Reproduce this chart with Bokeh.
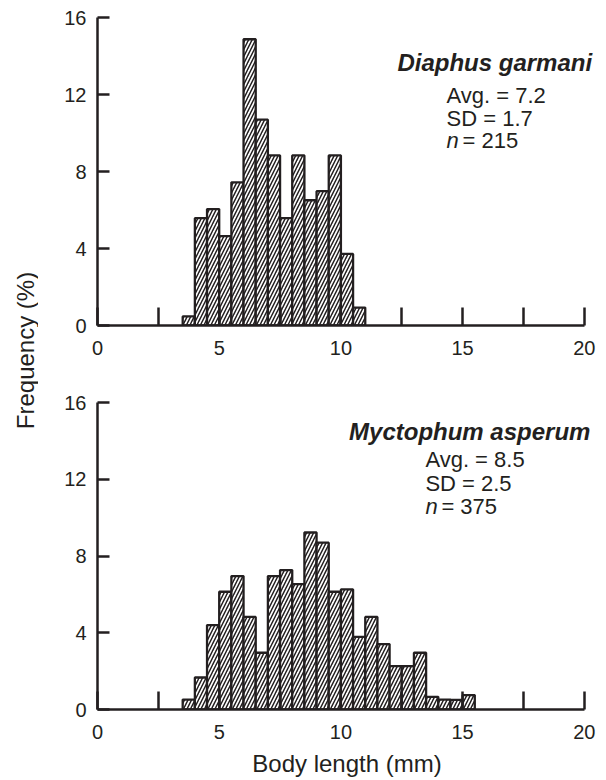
import math
from bokeh.plotting import figure
from bokeh.layouts import row, column
from bokeh.models import Range1d, FixedTicker, Label
from bokeh.embed import file_html
from bokeh.resources import INLINE

# ---------------- data ----------------
bin_width = 0.5
dg_bins = [3.5, 4.0, 4.5, 5.0, 5.5, 6.0, 6.5, 7.0, 7.5, 8.0, 8.5, 9.0, 9.5, 10.0, 10.5]
dg_freq = [0.47, 5.58, 6.05, 4.65, 7.44, 14.88, 10.70, 8.84, 5.58, 8.84, 6.51, 6.98, 8.84, 3.72, 0.93]

ma_bins = [3.5, 4.0, 4.5, 5.0, 5.5, 6.0, 6.5, 7.0, 7.5, 8.0, 8.5, 9.0,
           9.5, 10.0, 10.5, 11.0, 11.5, 12.0, 12.5, 13.0, 13.5, 14.0, 14.5, 15.0]
ma_freq = [0.52, 1.67, 4.40, 6.14, 6.96, 4.83, 2.96, 6.96, 7.27, 6.54, 9.23, 8.70,
           6.14, 6.26, 3.79, 4.83, 3.41, 2.26, 2.26, 2.96, 0.66, 0.52, 0.50, 0.75]

x_ticks = [0, 2.5, 5, 7.5, 10, 12.5, 15, 17.5, 20]
x_tick_labels = {0: "0", 2.5: "", 5: "5", 7.5: "", 10: "10", 12.5: "", 15: "15", 17.5: "", 20: "20"}
y_ticks = [0, 4, 8, 12, 16]

species = ["Diaphus garmani", "Myctophum asperum"]
avg_text = ["Avg. = 7.2", "Avg. = 8.5"]
sd_text = ["SD = 1.7", "SD = 2.5"]
n_text = ["= 215", "= 375"]
x_title = "Body length (mm)"
y_title = "Frequency (%)"

# ---------------- style ----------------
INK = "#231f20"
FONT = "Liberation Sans"
TICK_FS = "20px"
TEXT_FS = "22px"
AXIS_FS = "24px"
TITLE_FS = "24px"


def panel(bins, freq, height, top_b, bottom_b, title, avg, sd, nn, tx, ty, sx, sy, xlabel=None):
    p = figure(width=560, height=height,
               x_range=Range1d(0, 20.5), y_range=Range1d(0, 16.27),
               output_backend="svg", toolbar_location=None,
               min_border_left=59, min_border_right=2,
               min_border_top=top_b, min_border_bottom=bottom_b)
    p.outline_line_color = None
    p.grid.visible = False
    p.background_fill_color = "white"
    p.border_fill_color = "white"

    left = [b for b in bins]
    right = [b + bin_width for b in bins]
    p.quad(left=left, right=right, bottom=0, top=freq,
           fill_color="white", line_color=INK, line_width=2.3,
           hatch_pattern="/", hatch_color=INK, hatch_scale=7, hatch_weight=1.5)

    xa = p.xaxis[0]
    xa.ticker = FixedTicker(ticks=x_ticks)
    xa.major_label_overrides = x_tick_labels
    xa.bounds = (0, 20)
    xa.major_tick_in = 18
    xa.major_tick_out = 0
    xa.minor_tick_line_color = None
    xa.axis_line_width = 2.5
    xa.axis_line_color = INK
    xa.major_tick_line_width = 2.5
    xa.major_tick_line_color = INK
    xa.major_label_text_font = FONT
    xa.major_label_text_font_size = TICK_FS
    xa.major_label_text_color = INK
    xa.major_label_standoff = 15
    if xlabel:
        xa.axis_label = xlabel
        xa.axis_label_text_font = FONT
        xa.axis_label_text_font_size = AXIS_FS
        xa.axis_label_text_font_style = "normal"
        xa.axis_label_text_color = INK
        xa.axis_label_standoff = 8

    ya = p.yaxis[0]
    ya.ticker = FixedTicker(ticks=y_ticks)
    ya.bounds = (0, 16)
    ya.major_tick_in = 12
    ya.major_tick_out = 0
    ya.minor_tick_line_color = None
    ya.axis_line_width = 2.5
    ya.axis_line_color = INK
    ya.major_tick_line_width = 2.5
    ya.major_tick_line_color = INK
    ya.major_label_text_font = FONT
    ya.major_label_text_font_size = TICK_FS
    ya.major_label_text_color = INK
    ya.major_label_standoff = 11

    p.add_layout(Label(x=tx, y=ty, text=title, text_align="right", text_baseline="alphabetic",
                       text_font=FONT, text_font_size=TITLE_FS, text_font_style="bold italic",
                       text_color=INK))
    for i, t in enumerate([avg, sd]):
        p.add_layout(Label(x=sx, y=sy[i], text=t, text_align="left", text_baseline="alphabetic",
                           text_font=FONT, text_font_size=TEXT_FS, text_color=INK))
    p.add_layout(Label(x=sx, y=sy[2], text="n", text_align="left", text_baseline="alphabetic",
                       text_font=FONT, text_font_size=TEXT_FS, text_font_style="italic",
                       text_color=INK))
    p.add_layout(Label(x=sx, y=sy[2], x_offset=16, text=nn, text_align="left",
                       text_baseline="alphabetic",
                       text_font=FONT, text_font_size=TEXT_FS, text_color=INK))
    return p


top = panel(dg_bins, dg_freq, 385, 12, 60, species[0], avg_text[0], sd_text[0], n_text[0],
            20.32, 13.67, 14.34, [11.97, 10.76, 9.63])
bottom = panel(ma_bins, ma_freq, 394, 12, 70, species[1], avg_text[1], sd_text[1],
               n_text[1], 20.25, 14.51, 13.47, [13.05, 11.78, 10.59], xlabel=x_title)

lab = figure(width=38, height=779, x_range=Range1d(0, 38), y_range=Range1d(0, 779),
             output_backend="svg", toolbar_location=None, min_border=0,
             x_axis_type=None, y_axis_type=None)
lab.outline_line_color = None
lab.grid.visible = False
lab.add_layout(Label(x=25, y=429, x_units="screen", y_units="screen", text=y_title,
                     angle=math.pi / 2, text_align="center", text_baseline="middle",
                     text_font=FONT, text_font_size=AXIS_FS, text_color=INK))

layout = row(lab, column(top, bottom))

with open("out.html", "w") as f:
    f.write(file_html(layout, INLINE))
